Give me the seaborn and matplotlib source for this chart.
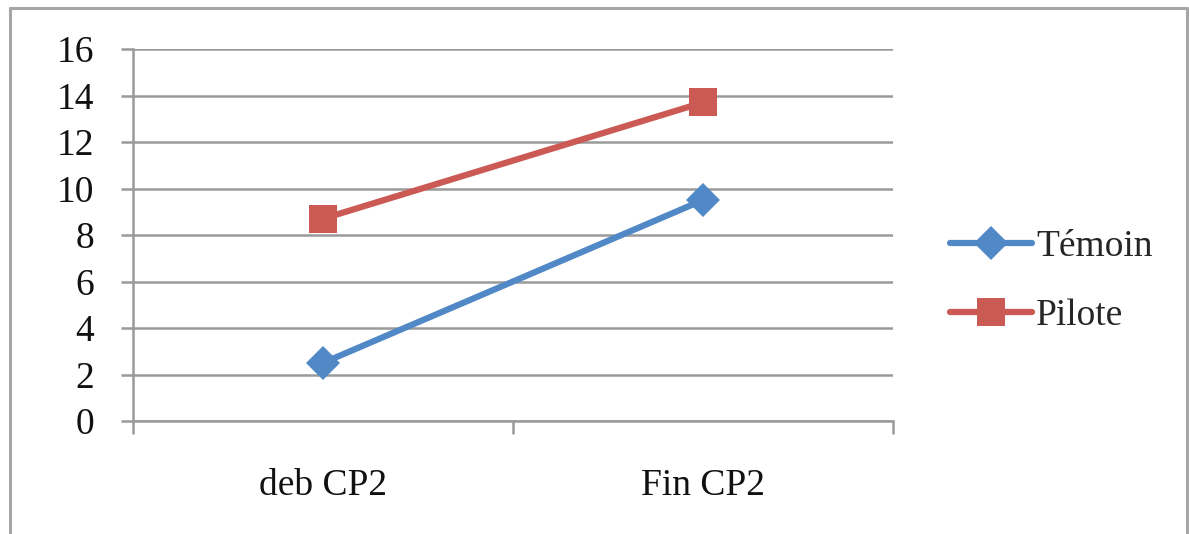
import matplotlib
matplotlib.use("Agg")
import matplotlib.pyplot as plt
from matplotlib.lines import Line2D
import seaborn as sns
import pandas as pd

# Scores moyens par groupe, début et fin de CP2
periodes = ["deb CP2", "Fin CP2"]
temoin = [2.5, 9.5]
pilote = [8.7, 13.7]
groupes = ["Témoin", "Pilote"]
y_ticks = [0, 2, 4, 6, 8, 10, 12, 14, 16]

df = pd.DataFrame({
    "periode": periodes * 2,
    "score": temoin + pilote,
    "groupe": [groupes[0]] * 2 + [groupes[1]] * 2,
})

sns.set_theme(style="white")
plt.rcParams["font.family"] = ["Liberation Serif", "DejaVu Serif"]

fig = plt.figure(figsize=(11.89, 5.34), dpi=100)
ax = fig.add_axes([133 / 1189, 1 - 421 / 534, (893 - 133) / 1189, (421 - 49) / 534])

palette = {"Témoin": "#5188C6", "Pilote": "#CB5A55"}
markers = {"Témoin": "D", "Pilote": "s"}
sizes = {"Témoin": 17, "Pilote": 20}

for g in groupes:
    sub = df[df["groupe"] == g]
    sns.lineplot(data=sub, x="periode", y="score", ax=ax, color=palette[g],
                 marker=markers[g], markersize=sizes[g], markeredgewidth=0,
                 linewidth=4.5, label=g, sort=False)

ax.set_xlim(-0.5, 1.5)
ax.set_ylim(0, 16)
ax.set_yticks(y_ticks)
ax.set_xticks([0, 1])
ax.set_xticklabels(periodes)
ax.set_xticks([-0.5, 0.5, 1.5], minor=True)
ax.set_xlabel("")
ax.set_ylabel("")

grid_color = "#9a9a9a"
ax.yaxis.grid(True, color=grid_color, linewidth=1.8)
ax.set_axisbelow(True)
for side in ["top", "right"]:
    ax.spines[side].set_visible(False)
for side in ["left", "bottom"]:
    ax.spines[side].set_color(grid_color)
    ax.spines[side].set_linewidth(1.8)

ax.tick_params(axis="y", which="major", direction="out", length=9, width=1.8,
               color=grid_color, labelsize=27, pad=19, left=True)
ax.tick_params(axis="x", which="major", length=0, labelsize=27, pad=34, bottom=True)
ax.tick_params(axis="x", which="minor", direction="out", length=9, width=1.8,
               color=grid_color, bottom=True)
for lbl in ax.get_yticklabels() + ax.get_xticklabels():
    lbl.set_color("#111111")

handles, labels = ax.get_legend_handles_labels()
leg = ax.legend(handles, labels, loc="center left", bbox_to_anchor=(1.055, 0.375),
                frameon=False, fontsize=27, handlelength=2.2, handletextpad=0.1,
                labelspacing=0.92, borderaxespad=0)

# cadre gris autour du graphique
frame_kw = dict(color="#a6a6a6", linewidth=2.2, transform=fig.transFigure)
x0, x1 = 10 / 1189, 1187 / 1189
ytop = 1 - 8 / 534
fig.add_artist(Line2D([x0, x0], [0, ytop], **frame_kw))
fig.add_artist(Line2D([x0, x1], [ytop, ytop], **frame_kw))
fig.add_artist(Line2D([x1, x1], [0, ytop], **frame_kw))

fig.savefig("out.png", dpi=100, facecolor="white")
